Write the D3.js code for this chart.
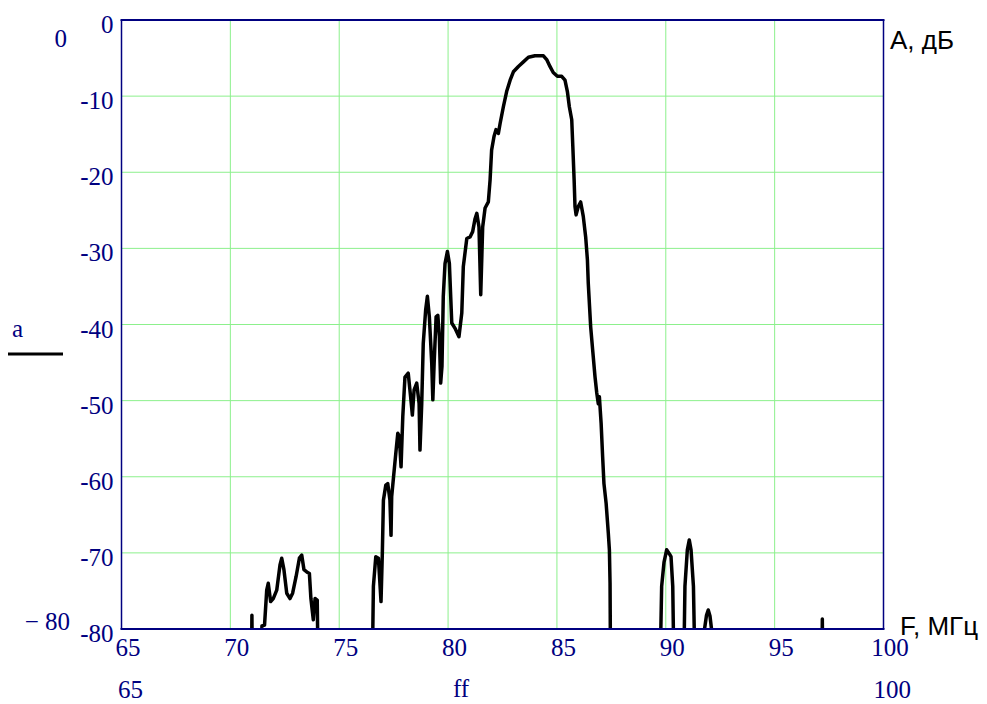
<!DOCTYPE html>
<html>
<head>
<meta charset="utf-8">
<script src="https://cdn.jsdelivr.net/npm/d3@7"></script>
<style>
    body { margin: 0; background: #fff; }
    text.serif { font-family: "Liberation Serif", "Times New Roman", serif; }
    text.sans { font-family: "Liberation Sans", Arial, sans-serif; }
</style>
</head>
<body>
<svg id="chart" width="987" height="704"></svg>
<script>
// tick values
var freqTicks = [65, 70, 75, 80, 85, 90, 95, 100];
var dbTicks = [0, -10, -20, -30, -40, -50, -60, -70, -80];

// frequency response, F (MHz) and A (dB); values under -80 are off the chart
var freq = [65, 70.93, 70.99, 71.06, 71.38, 71.45, 71.57, 71.67, 71.74, 71.85, 71.97, 72.13, 72.28, 72.36,
    72.46, 72.59, 72.74, 72.86, 73.02, 73.17, 73.28, 73.38, 73.51, 73.63, 73.70, 73.81, 73.89, 73.99, 74.10,
    76.45, 76.57, 76.68, 76.80, 76.92, 76.98, 77.03, 77.14, 77.23, 77.33, 77.38, 77.41, 77.49, 77.60, 77.69,
    77.76, 77.84, 77.92, 78.02, 78.17, 78.28, 78.36, 78.44, 78.56, 78.67, 78.71, 78.79, 78.86, 78.97, 79.05,
    79.14, 79.25, 79.30, 79.36, 79.45, 79.53, 79.60, 79.66, 79.72, 79.78, 79.86, 79.97, 80.06, 80.17, 80.32,
    80.50, 80.63, 80.70, 80.86, 81.01, 81.13, 81.24, 81.32, 81.42, 81.50, 81.59, 81.70, 81.85, 81.93, 82.00,
    82.11, 82.20, 82.31, 82.39, 82.54, 82.69, 82.85, 83.00, 83.23, 83.46, 83.69, 83.99, 84.38, 84.53, 84.68,
    84.83, 85.02, 85.22, 85.37, 85.48, 85.57, 85.68, 85.73, 85.79, 85.83, 85.88, 85.98, 86.09, 86.21, 86.32,
    86.40, 86.44, 86.55, 86.64, 86.75, 86.83, 86.90, 86.95, 87.03, 87.10, 87.16, 87.26, 87.36, 87.41, 87.44,
    87.49, 89.64, 89.81, 89.92, 90.04, 90.16, 90.24, 90.32, 90.45, 90.75, 90.88, 90.99, 91.08, 91.16, 91.27,
    91.44, 91.70, 91.78, 91.87, 91.95, 92.03, 92.10, 92.20, 97.12, 97.19, 97.26, 100];
var gain = [-100, -100, -78.2, -100, -100, -79.6, -79.5, -74.9, -74.0, -76.4, -76.0, -74.9, -71.6, -70.7,
    -72.2, -75.3, -76.0, -75.3, -73.1, -70.7, -70.3, -72.2, -72.5, -72.7, -76.0, -78.8, -76.0, -76.2, -100,
    -100, -74.4, -70.5, -70.7, -76.4, -70.1, -63.1, -61.1, -60.9, -63.1, -67.7, -62.6, -60.2, -56.9, -54.3,
    -54.7, -58.7, -52.1, -46.9, -46.4, -49.5, -51.9, -48.6, -47.7, -50.4, -56.5, -50.4, -42.5, -38.1, -36.3,
    -39.0, -45.1, -49.9, -45.1, -39.0, -38.8, -41.6, -47.7, -45.5, -36.3, -32.0, -30.4, -32.0, -39.8, -40.5,
    -41.6, -38.5, -32.4, -28.7, -28.5, -27.8, -26.1, -25.4, -27.2, -36.1, -27.2, -24.7, -23.9, -21.0, -17.1,
    -15.3, -14.4, -14.9, -13.6, -11.4, -9.4, -7.9, -6.8, -6.1, -5.5, -4.9, -4.7, -4.7, -5.2, -6.1,
    -6.9, -7.4, -7.4, -7.9, -9.4, -11.4, -13.1, -16.6, -21.0, -24.5, -25.6, -24.5, -23.9, -25.8, -28.5,
    -31.5, -34.6, -40.3, -43.3, -46.9, -49.0, -50.4, -49.5, -53.0, -57.4, -60.9, -63.5, -67.4, -69.6, -74.0,
    -100, -100, -74.4, -71.2, -69.6, -70.1, -70.5, -74.4, -100, -100, -74.4, -69.6, -68.3, -69.6, -74.4,
    -100, -100, -80, -78.2, -77.5, -78.3, -80, -100, -100, -78.7, -100, -100];

var navy = '#000080',
    grid = '#8cf08c';

var svg = d3.select('#chart');

var x = d3.scaleLinear().domain([65, 100]).range([121.5, 883.5]),
    y = d3.scaleLinear().domain([-80, 0]).range([629, 20]);

var points = freq.map(function(f, i) {
    return { f: f, a: gain[i] };
});

// grid lines
svg.append('g')
    .selectAll('line')
    .data(freqTicks.slice(1, -1))
    .enter()
    .append('line')
    .attr('x1', function(d) { return x(d); })
    .attr('x2', function(d) { return x(d); })
    .attr('y1', y(0))
    .attr('y2', y(-80))
    .attr('stroke', grid)
    .attr('stroke-width', 1);

svg.append('g')
    .selectAll('line')
    .data(dbTicks.slice(1, -1))
    .enter()
    .append('line')
    .attr('x1', x(65))
    .attr('x2', x(100))
    .attr('y1', function(d) { return y(d); })
    .attr('y2', function(d) { return y(d); })
    .attr('stroke', grid)
    .attr('stroke-width', 1);

// curve
svg.append('clipPath')
    .attr('id', 'plot-clip')
    .append('rect')
    .attr('x', x(65))
    .attr('y', y(0))
    .attr('width', x(100) - x(65))
    .attr('height', y(-80) - y(0));

var line = d3.line()
    .x(function(d) { return x(d.f); })
    .y(function(d) { return y(d.a); });

svg.append('path')
    .datum(points)
    .attr('clip-path', 'url(#plot-clip)')
    .attr('d', line)
    .attr('fill', 'none')
    .attr('stroke', '#000')
    .attr('stroke-width', 3.5)
    .attr('stroke-linejoin', 'round');

// frame
svg.append('line').attr('x1', x(65)).attr('x2', x(65)).attr('y1', y(0)).attr('y2', y(-80))
    .attr('stroke', navy).attr('stroke-width', 1.5);
svg.append('line').attr('x1', x(100)).attr('x2', x(100)).attr('y1', y(0)).attr('y2', y(-80))
    .attr('stroke', navy).attr('stroke-width', 1.5);
svg.append('line').attr('x1', x(65) - 1).attr('x2', x(100) + 1).attr('y1', y(0)).attr('y2', y(0))
    .attr('stroke', navy).attr('stroke-width', 2.2);
svg.append('line').attr('x1', x(65) - 1).attr('x2', x(100) + 1).attr('y1', y(-80)).attr('y2', y(-80))
    .attr('stroke', navy).attr('stroke-width', 2.2);

// axes (labels only), plain hyphen as in the original
var hyphenFormat = function(d) { return String(d); };

var yAxis = svg.append('g')
    .attr('transform', 'translate(' + x(65) + ',0)')
    .call(d3.axisLeft(y).tickValues(dbTicks).tickSize(0).tickPadding(8).tickFormat(hyphenFormat));
yAxis.select('.domain').remove();
yAxis.selectAll('text')
    .attr('dy', 12.5)
    .attr('fill', navy)
    .style('font-size', '25px')
    .style('font-family', '"Liberation Serif", serif');

var xAxis = svg.append('g')
    .attr('transform', 'translate(0,' + y(-80) + ')')
    .call(d3.axisBottom(x).tickValues(freqTicks).tickSize(0).tickFormat(hyphenFormat));
xAxis.select('.domain').remove();
xAxis.selectAll('text')
    .attr('x', 6)
    .attr('y', 27)
    .attr('dy', 0)
    .attr('fill', navy)
    .style('font-size', '25px')
    .style('font-family', '"Liberation Serif", serif');

// Mathcad style limit labels
function label(txt, px, py, anchor, color, cls, size) {
    svg.append('text')
        .attr('class', cls)
        .attr('x', px)
        .attr('y', py)
        .attr('text-anchor', anchor)
        .attr('fill', color)
        .style('font-size', size + 'px')
        .text(txt);
}

label('0', 67, 47, 'end', navy, 'serif', 25);
label('\u2212 80', 70, 630, 'end', navy, 'serif', 25);
label('65', 118, 698, 'start', navy, 'serif', 25);
label('100', 911, 698, 'end', navy, 'serif', 25);
label('ff', 461, 697, 'middle', navy, 'serif', 25);
label('a', 12, 337, 'start', navy, 'serif', 25);
label('A, дБ', 890, 49, 'start', '#000', 'sans', 26);
label('F, МГц', 900, 635, 'start', '#000', 'sans', 26);

// legend line
svg.append('line')
    .attr('x1', 8)
    .attr('x2', 63)
    .attr('y1', 354)
    .attr('y2', 354)
    .attr('stroke', '#000')
    .attr('stroke-width', 3);
</script>
</body>
</html>
